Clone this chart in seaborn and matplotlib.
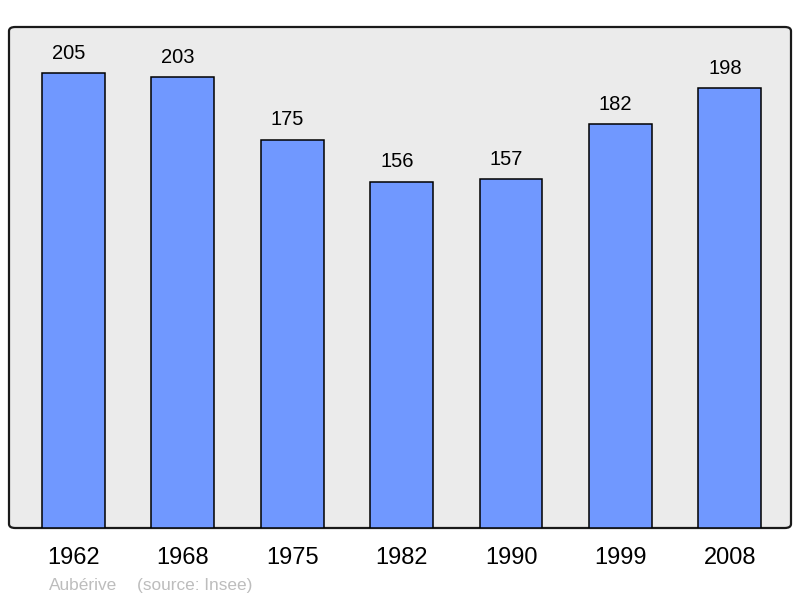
import matplotlib
matplotlib.use("Agg")
import matplotlib.pyplot as plt
import seaborn as sns
import pandas as pd
from matplotlib.patches import FancyBboxPatch

# population data
years = ["1962", "1968", "1975", "1982", "1990", "1999", "2008"]
population = [205, 203, 175, 156, 157, 182, 198]
commune = "Aubérive"
source_note = "(source: Insee)"

df = pd.DataFrame({"year": years, "population": population})

sns.set_style("white")
plt.rcParams["font.family"] = ["Liberation Sans", "DejaVu Sans"]

fig = plt.figure(figsize=(8, 5.98), dpi=100)
ax = fig.add_axes([9 / 800, 1 - 528 / 598, 782 / 800, 501 / 598])
ax.set_facecolor("none")

# rounded grey panel behind the bars
panel = FancyBboxPatch((0, 0), 1, 1, boxstyle="round,pad=0,rounding_size=0.008",
                       transform=ax.transAxes, facecolor="#ebebeb",
                       edgecolor="#1a1a1a", linewidth=1.6, zorder=0,
                       clip_on=False)
ax.add_patch(panel)

sns.barplot(data=df, x="year", y="population", color="#7098ff",
            saturation=1, width=0.575, edgecolor="black", linewidth=1.1,
            ax=ax, zorder=2)

ax.set_xlim(-0.59, 6.56)
ax.set_ylim(0, 225.7)

for i, v in enumerate(population):
    ax.annotate(str(v), (i, v), xytext=(-3.5, 7.5), textcoords="offset points",
                ha="center", va="bottom", fontsize=14.5, color="black")

for s in ax.spines.values():
    s.set_visible(False)
ax.set_yticks([])
ax.set_xlabel("")
ax.set_ylabel("")
ax.tick_params(axis="x", length=0, pad=14, labelsize=17, colors="black")

fig.text(49 / 800, 1 - 585.5 / 598, commune, fontsize=12.4, color="#bdbdbd",
         ha="left", va="center")
fig.text(137 / 800, 1 - 585.5 / 598, source_note, fontsize=12.4, color="#bdbdbd",
         ha="left", va="center")

fig.savefig("out.png", dpi=100)
